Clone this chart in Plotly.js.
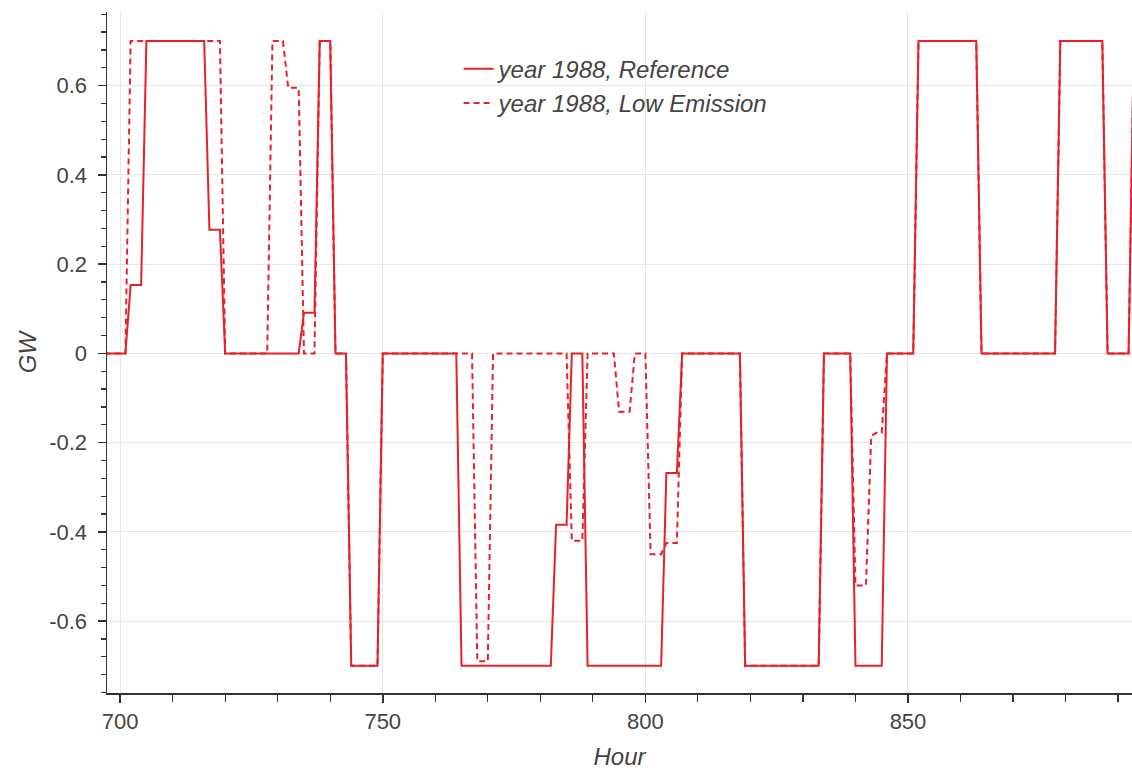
<!DOCTYPE html>
<html>
<head>
<meta charset="utf-8">
<script src="https://cdn.plot.ly/plotly-3.0.1.min.js"></script>
<style>
  html, body { margin: 0; padding: 0; background: #fff; }
  #chart { width: 1132px; height: 774px; }
</style>
</head>
<body>
<div id="chart"></div>
<script>
// Hours (x values)
const hours = [
  697, 698, 699,
  700, 701, 702, 703, 704, 705, 706, 707, 708, 709,
  710, 711, 712, 713, 714, 715, 716, 717, 718, 719,
  720, 721, 722, 723, 724, 725, 726, 727, 728, 729,
  730, 731, 732, 733, 734, 735, 736, 737, 738, 739,
  740, 741, 742, 743, 744, 745, 746, 747, 748, 749,
  750, 751, 752, 753, 754, 755, 756, 757, 758, 759,
  760, 761, 762, 763, 764, 765, 766, 767, 768, 769,
  770, 771, 772, 773, 774, 775, 776, 777, 778, 779,
  780, 781, 782, 783, 784, 785, 786, 787, 788, 789,
  790, 791, 792, 793, 794, 795, 796, 797, 798, 799,
  800, 801, 802, 803, 804, 805, 806, 807, 808, 809,
  810, 811, 812, 813, 814, 815, 816, 817, 818, 819,
  820, 821, 822, 823, 824, 825, 826, 827, 828, 829,
  830, 831, 832, 833, 834, 835, 836, 837, 838, 839,
  840, 841, 842, 843, 844, 845, 846, 847, 848, 849,
  850, 851, 852, 853, 854, 855, 856, 857, 858, 859,
  860, 861, 862, 863, 864, 865, 866, 867, 868, 869,
  870, 871, 872, 873, 874, 875, 876, 877, 878, 879,
  880, 881, 882, 883, 884, 885, 886, 887, 888, 889,
  890, 891, 892, 893
];

// year 1988, Reference (GW)
const reference = [
  0, 0, 0,
  0, 0, 0.153, 0.153, 0.153, 0.7, 0.7, 0.7, 0.7, 0.7,
  0.7, 0.7, 0.7, 0.7, 0.7, 0.7, 0.7, 0.277, 0.277, 0.277,
  0, 0, 0, 0, 0, 0, 0, 0, 0, 0,
  0, 0, 0, 0, 0, 0.091, 0.091, 0.091, 0.7, 0.7,
  0.7, 0, 0, 0, -0.7, -0.7, -0.7, -0.7, -0.7, -0.7,
  0, 0, 0, 0, 0, 0, 0, 0, 0, 0,
  0, 0, 0, 0, 0, -0.7, -0.7, -0.7, -0.7, -0.7,
  -0.7, -0.7, -0.7, -0.7, -0.7, -0.7, -0.7, -0.7, -0.7, -0.7,
  -0.7, -0.7, -0.7, -0.384, -0.384, -0.384, 0, 0, 0, -0.7,
  -0.7, -0.7, -0.7, -0.7, -0.7, -0.7, -0.7, -0.7, -0.7, -0.7,
  -0.7, -0.7, -0.7, -0.7, -0.268, -0.268, -0.268, 0, 0, 0,
  0, 0, 0, 0, 0, 0, 0, 0, 0, -0.7,
  -0.7, -0.7, -0.7, -0.7, -0.7, -0.7, -0.7, -0.7, -0.7, -0.7,
  -0.7, -0.7, -0.7, -0.7, 0, 0, 0, 0, 0, 0,
  -0.7, -0.7, -0.7, -0.7, -0.7, -0.7, 0, 0, 0, 0,
  0, 0, 0.7, 0.7, 0.7, 0.7, 0.7, 0.7, 0.7, 0.7,
  0.7, 0.7, 0.7, 0.7, 0, 0, 0, 0, 0, 0,
  0, 0, 0, 0, 0, 0, 0, 0, 0, 0.7,
  0.7, 0.7, 0.7, 0.7, 0.7, 0.7, 0.7, 0.7, 0, 0,
  0, 0, 0, 0.7
];

// year 1988, Low Emission (GW)
const lowEmission = [
  0, 0, 0,
  0, 0, 0.7, 0.7, 0.7, 0.7, 0.7, 0.7, 0.7, 0.7,
  0.7, 0.7, 0.7, 0.7, 0.7, 0.7, 0.7, 0.7, 0.7, 0.7,
  0, 0, 0, 0, 0, 0, 0, 0, 0, 0.7,
  0.7, 0.7, 0.595, 0.595, 0.595, 0, 0, 0, 0.7, 0.7,
  0.7, 0, 0, 0, -0.7, -0.7, -0.7, -0.7, -0.7, -0.7,
  0, 0, 0, 0, 0, 0, 0, 0, 0, 0,
  0, 0, 0, 0, 0, 0, 0, 0, -0.69, -0.69,
  -0.69, 0, 0, 0, 0, 0, 0, 0, 0, 0,
  0, 0, 0, 0, 0, 0, -0.42, -0.42, -0.42, 0,
  0, 0, 0, 0, 0, -0.131, -0.131, -0.131, 0, 0,
  0, -0.45, -0.45, -0.45, -0.425, -0.425, -0.425, 0, 0, 0,
  0, 0, 0, 0, 0, 0, 0, 0, 0, -0.7,
  -0.7, -0.7, -0.7, -0.7, -0.7, -0.7, -0.7, -0.7, -0.7, -0.7,
  -0.7, -0.7, -0.7, -0.7, 0, 0, 0, 0, 0, 0,
  -0.52, -0.52, -0.52, -0.185, -0.178, -0.178, 0, 0, 0, 0,
  0, 0, 0.7, 0.7, 0.7, 0.7, 0.7, 0.7, 0.7, 0.7,
  0.7, 0.7, 0.7, 0.7, 0, 0, 0, 0, 0, 0,
  0, 0, 0, 0, 0, 0, 0, 0, 0, 0.7,
  0.7, 0.7, 0.7, 0.7, 0.7, 0.7, 0.7, 0.7, 0, 0,
  0, 0, 0, 0.7
];

const seriesNames = ['year 1988, Reference', 'year 1988, Low Emission'];
const yTickVals = [-0.6, -0.4, -0.2, 0, 0.2, 0.4, 0.6];
const yTickText = ['-0.6', '-0.4', '-0.2', '0', '0.2', '0.4', '0.6'];

const RED = '#e8202a';
const FONT = 'Arial, "Liberation Sans", sans-serif';

const traces = [
  {
    x: hours, y: reference, name: seriesNames[0],
    type: 'scatter', mode: 'lines',
    line: { color: RED, width: 2, dash: 'solid' }
  },
  {
    x: hours, y: lowEmission, name: seriesNames[1],
    type: 'scatter', mode: 'lines',
    line: { color: RED, width: 2, dash: '6px,4px' }
  }
];

const layout = {
  width: 1132, height: 774,
  margin: { l: 107, r: 0, t: 12, b: 81 },
  paper_bgcolor: '#fff', plot_bgcolor: '#fff',
  font: { family: FONT, color: '#444', size: 22 },
  showlegend: true,
  legend: {
    x: 0.343, y: 0.949, xanchor: 'left', yanchor: 'top',
    bgcolor: 'rgba(255,255,255,0)', borderwidth: 0,
    font: { family: FONT, size: 24, color: '#444', style: 'italic' },
    tracegroupgap: 0
  },
  xaxis: {
    range: [697.5, 892.65],
    dtick: 50, tick0: 700,
    showgrid: true, gridcolor: '#e6e6e6', gridwidth: 1,
    zeroline: false,
    showline: true, linecolor: '#333', linewidth: 1.5,
    ticks: 'outside', ticklen: 8, tickwidth: 1.5, tickcolor: '#333',
    minor: { dtick: 10, ticks: 'outside', ticklen: 7, tickwidth: 1.2, tickcolor: '#333', showgrid: false },
    tickfont: { family: FONT, size: 22, color: '#444' },
    title: { text: 'Hour', font: { family: FONT, size: 24, color: '#444', style: 'italic' }, standoff: 15 }
  },
  yaxis: {
    range: [-0.761, 0.765],
    tickvals: yTickVals, ticktext: yTickText,
    showgrid: true, gridcolor: '#e6e6e6', gridwidth: 1,
    zeroline: false,
    showline: true, linecolor: '#333', linewidth: 1.5,
    ticks: 'outside', ticklen: 8, tickwidth: 1.5, tickcolor: '#333',
    ticklabelstandoff: 6,
    minor: { dtick: 0.04, tick0: 0, ticks: 'outside', ticklen: 5, tickwidth: 1.2, tickcolor: '#333', showgrid: false },
    tickfont: { family: FONT, size: 22, color: '#444' },
    title: { text: 'GW', font: { family: FONT, size: 24, color: '#444', style: 'italic' }, standoff: 6 }
  }
};

Plotly.newPlot('chart', traces, layout, { displayModeBar: false, staticPlot: true });
</script>
</body>
</html>
